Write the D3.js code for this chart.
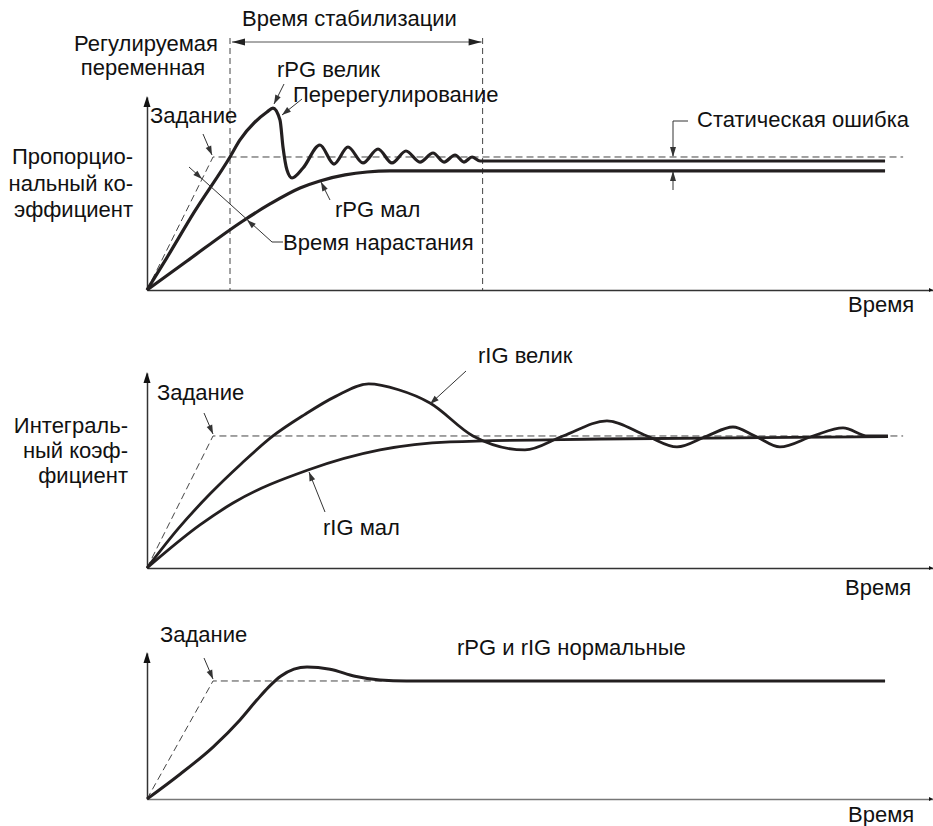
<!DOCTYPE html>
<html>
<head>
<meta charset="utf-8">
<script src="https://cdn.jsdelivr.net/npm/d3@7"></script>
<style>
  html, body { margin: 0; padding: 0; background: #fff; }
  svg text { font-family: "Liberation Sans", Arial, sans-serif; font-size: 22px; fill: #111; }
</style>
</head>
<body>
<svg id="chart" width="933" height="826"></svg>
<script>
// ---------------- DATA (time in % of axis, value relative to setpoint) ----------------
// Panel 1: proportional gain
const setpointT1 = [0, 8.4, 96.2];
const setpointV1 = [0, 1, 1];
const rpgBigT = [0, 2.5, 6.0, 10.56, 11.83, 13.74, 15.27, 16.03, 16.92, 17.3, 17.81, 18.45, 19.85, 22.0, 23.79, 25.57, 27.48, 29.39, 31.17, 32.95, 34.73, 36.39, 37.79, 39.19, 40.33, 41.35, 42.37, 46.0, 93.9];
const rpgBigV = [0, 0.24, 0.585, 1.0, 1.128, 1.263, 1.338, 1.368, 1.278, 1.075, 0.902, 0.842, 0.917, 1.09, 0.947, 1.075, 0.955, 1.06, 0.955, 1.045, 0.962, 1.03, 0.962, 1.015, 0.962, 1.0, 0.97, 0.97, 0.97];
const rpgSmallT = [0, 5.09, 12.2, 15.65, 19.47, 22.0, 25.2, 28.0, 30.9, 93.9];
const rpgSmallV = [0, 0.218, 0.519, 0.647, 0.767, 0.820, 0.865, 0.887, 0.895, 0.895];
const settlingT = [10.56, 42.7];

// Panel 2: integral gain
const setpointT2 = [0, 8.4, 96.2];
const setpointV2 = [0, 1, 1];
const rigBigT = [0, 4, 8, 12, 16.03, 20, 24, 28.2, 32, 36.0, 41.48, 48.09, 52.93, 58.52, 63.61, 67.43, 71.25, 74.55, 77.35, 80.53, 84.73, 88.55, 91.73, 94.27];
const rigBigV = [0, 0.30, 0.56, 0.79, 1.0, 1.16, 1.30, 1.394, 1.35, 1.25, 1.0, 0.894, 1.0, 1.114, 1.0, 0.917, 1.0, 1.068, 1.0, 0.917, 1.0, 1.061, 1.0, 1.0];
const rigSmallT = [0, 6.74, 10.94, 20.48, 29.64, 38.55, 57.6, 94.27];
const rigSmallV = [0, 0.326, 0.492, 0.742, 0.894, 0.955, 0.977, 0.995];

// Panel 3: normal gains
const setpointT3 = [0, 8.4, 93.9];
const setpointV3 = [0, 1, 1];
const normT = [0, 4.2, 8.4, 11.83, 14.0, 15.5, 17.0, 18.7, 20.36, 23.28, 26.46, 29.64, 33.0, 93.9];
const normV = [0, 0.21, 0.44, 0.67, 0.84, 0.95, 1.04, 1.10, 1.119, 1.10, 1.04, 1.008, 1.0, 1.0];

// Labels
const axisLabel = "Время";
const panel1Labels = ["Регулируемая", "переменная"];
const panel1YLabel = ["Пропорцио-", "нальный ко-", "эффициент"];
const panel2YLabel = ["Интеграль-", "ный коэф-", "фициент"];
const setpointLabel = "Задание";

// ---------------- LAYOUT ----------------
const svg = d3.select("#chart");
const x = d3.scaleLinear().domain([0, 100]).range([147, 933]);
const y1 = d3.scaleLinear().domain([0, 1.451]).range([290, 97]);
const y2 = d3.scaleLinear().domain([0, 1.477]).range([568, 373]);
const y3 = d3.scaleLinear().domain([0, 1.237]).range([799, 653]);

const INK = "#231f20";
const AX = "#333";

function zip(T, V) { return T.map((t, i) => [t, V[i]]); }
function lineFor(ys, curve) {
  return d3.line().x(d => x(d[0])).y(d => ys(d[1])).curve(curve || d3.curveMonotoneX);
}
function arrowHead(g, tx, ty, fx, fy, len, half, color) {
  len = len || 9; half = half || 3;
  const a = Math.atan2(ty - fy, tx - fx);
  const bx = tx - len * Math.cos(a), by = ty - len * Math.sin(a);
  const px = -Math.sin(a) * half, py = Math.cos(a) * half;
  g.append("path")
    .attr("d", `M${tx},${ty}L${bx + px},${by + py}L${bx - px},${by - py}Z`)
    .attr("fill", color || AX);
}
function leader(g, pts, color) {
  g.append("path").attr("d", d3.line()(pts)).attr("fill", "none")
    .attr("stroke", color || AX).attr("stroke-width", 1);
}
function text(g, s, tx, ty, anchor) {
  g.append("text").attr("x", tx).attr("y", ty).attr("text-anchor", anchor || "start").text(s);
}

function drawAxes(g, ys, xColor) {
  const xa = g.append("g").attr("transform", `translate(0,${ys(0)})`)
    .call(d3.axisBottom(x).ticks(0).tickSizeOuter(0));
  xa.select(".domain").attr("stroke", xColor || AX).attr("stroke-width", 1.5);
  const ya = g.append("g").attr("transform", `translate(${x(0)},0)`)
    .call(d3.axisLeft(ys).ticks(0).tickSizeOuter(0));
  ya.select(".domain").attr("stroke", AX).attr("stroke-width", 1.5);
  const top = ys.range()[1];
  arrowHead(g, x(0), top - 1, x(0), top + 20, 11, 3.5, "#111");
  arrowHead(g, x(100), ys(0), x(100) - 20, ys(0), 4, 2, "#111");
}
function drawSetpoint(g, ys, T, V) {
  g.append("path").datum(zip(T, V))
    .attr("d", lineFor(ys, d3.curveLinear))
    .attr("fill", "none").attr("stroke", "#444").attr("stroke-width", 1)
    .attr("stroke-dasharray", "7,4");
}
function drawCurve(g, ys, T, V, w) {
  g.append("path").datum(zip(T, V))
    .attr("d", lineFor(ys))
    .attr("fill", "none").attr("stroke", INK).attr("stroke-width", w || 3)
    .attr("stroke-linejoin", "round").attr("stroke-linecap", "butt");
}

// ---------------- PANEL 1 ----------------
const g1 = svg.append("g");
settlingT.forEach(t => {
  g1.append("line").attr("x1", x(t)).attr("x2", x(t)).attr("y1", 38).attr("y2", y1(0))
    .attr("stroke", "#444").attr("stroke-width", 1).attr("stroke-dasharray", "6,4");
});
drawAxes(g1, y1);
drawSetpoint(g1, y1, setpointT1, setpointV1);
drawCurve(g1, y1, rpgSmallT, rpgSmallV, 3.2);
drawCurve(g1, y1, rpgBigT, rpgBigV, 3.2);

leader(g1, [[x(settlingT[0]) + 2, 42], [x(settlingT[1]) - 1, 42]], "#555");
arrowHead(g1, x(settlingT[0]) + 2, 42, x(settlingT[1]), 42, 13, 3.5, "#222");
arrowHead(g1, x(settlingT[1]) - 1, 42, x(settlingT[0]), 42, 13, 3.5, "#222");
text(g1, "Время стабилизации", 242, 26);

text(g1, panel1Labels[0], 146, 51, "middle");
text(g1, panel1Labels[1], 143, 75, "middle");
panel1YLabel.forEach((s, i) => text(g1, s, 133, 164 + i * 26.5, "end"));

text(g1, "rPG велик", 277, 77);
leader(g1, [[284, 84], [274, 104]]);
arrowHead(g1, 274, 104, 284, 84, 9, 3);
text(g1, "Перерегулирование", 293, 102);
leader(g1, [[302, 99], [282, 115]]);
arrowHead(g1, 282, 115, 302, 99, 9, 3);
text(g1, setpointLabel, 150, 123);
leader(g1, [[203, 134], [212, 155]]);
arrowHead(g1, 212, 155, 203, 134, 9, 3);
leader(g1, [[189, 167], [272, 242], [283, 242]]);
arrowHead(g1, 202, 179, 189, 167, 9, 3);
arrowHead(g1, 247, 220, 272, 242, 9, 3);
text(g1, "Время нарастания", 283, 250);
text(g1, "rPG мал", 335, 217);
leader(g1, [[330, 200], [321, 182]]);
arrowHead(g1, 321, 182, 330, 200, 9, 3);
text(g1, "Статическая ошибка", 697, 127);
leader(g1, [[688, 121], [673, 121], [673, 156]]);
arrowHead(g1, 673, 157, 673, 130, 10, 3);
leader(g1, [[673, 190], [673, 172]]);
arrowHead(g1, 673, 171, 673, 190, 10, 3);
text(g1, axisLabel, 848, 312);

// ---------------- PANEL 2 ----------------
const g2 = svg.append("g");
drawAxes(g2, y2);
drawSetpoint(g2, y2, setpointT2, setpointV2);
drawCurve(g2, y2, rigSmallT, rigSmallV, 2.8);
drawCurve(g2, y2, rigBigT, rigBigV, 2.8);
text(g2, setpointLabel, 157, 400);
leader(g2, [[204, 413], [213, 434]]);
arrowHead(g2, 213, 434, 204, 413, 9, 3);
panel2YLabel.forEach((s, i) => text(g2, s, 128, 433 + i * 25, "end"));
text(g2, "rIG велик", 478, 363);
leader(g2, [[466, 371], [430, 404]]);
arrowHead(g2, 430, 404, 466, 371, 9, 3);
text(g2, "rIG мал", 323, 535);
leader(g2, [[325, 512], [309, 472]]);
arrowHead(g2, 309, 472, 325, 512, 9, 3);
text(g2, axisLabel, 845, 595);

// ---------------- PANEL 3 ----------------
const g3 = svg.append("g");
drawAxes(g3, y3, "#777");
drawSetpoint(g3, y3, setpointT3, setpointV3);
drawCurve(g3, y3, normT, normV, 3);
text(g3, setpointLabel, 160, 642);
leader(g3, [[204, 658], [213, 679]]);
arrowHead(g3, 213, 679, 204, 658, 9, 3);
text(g3, "rPG и rIG нормальные", 457, 655);
text(g3, axisLabel, 848, 822);
</script>
</body>
</html>
